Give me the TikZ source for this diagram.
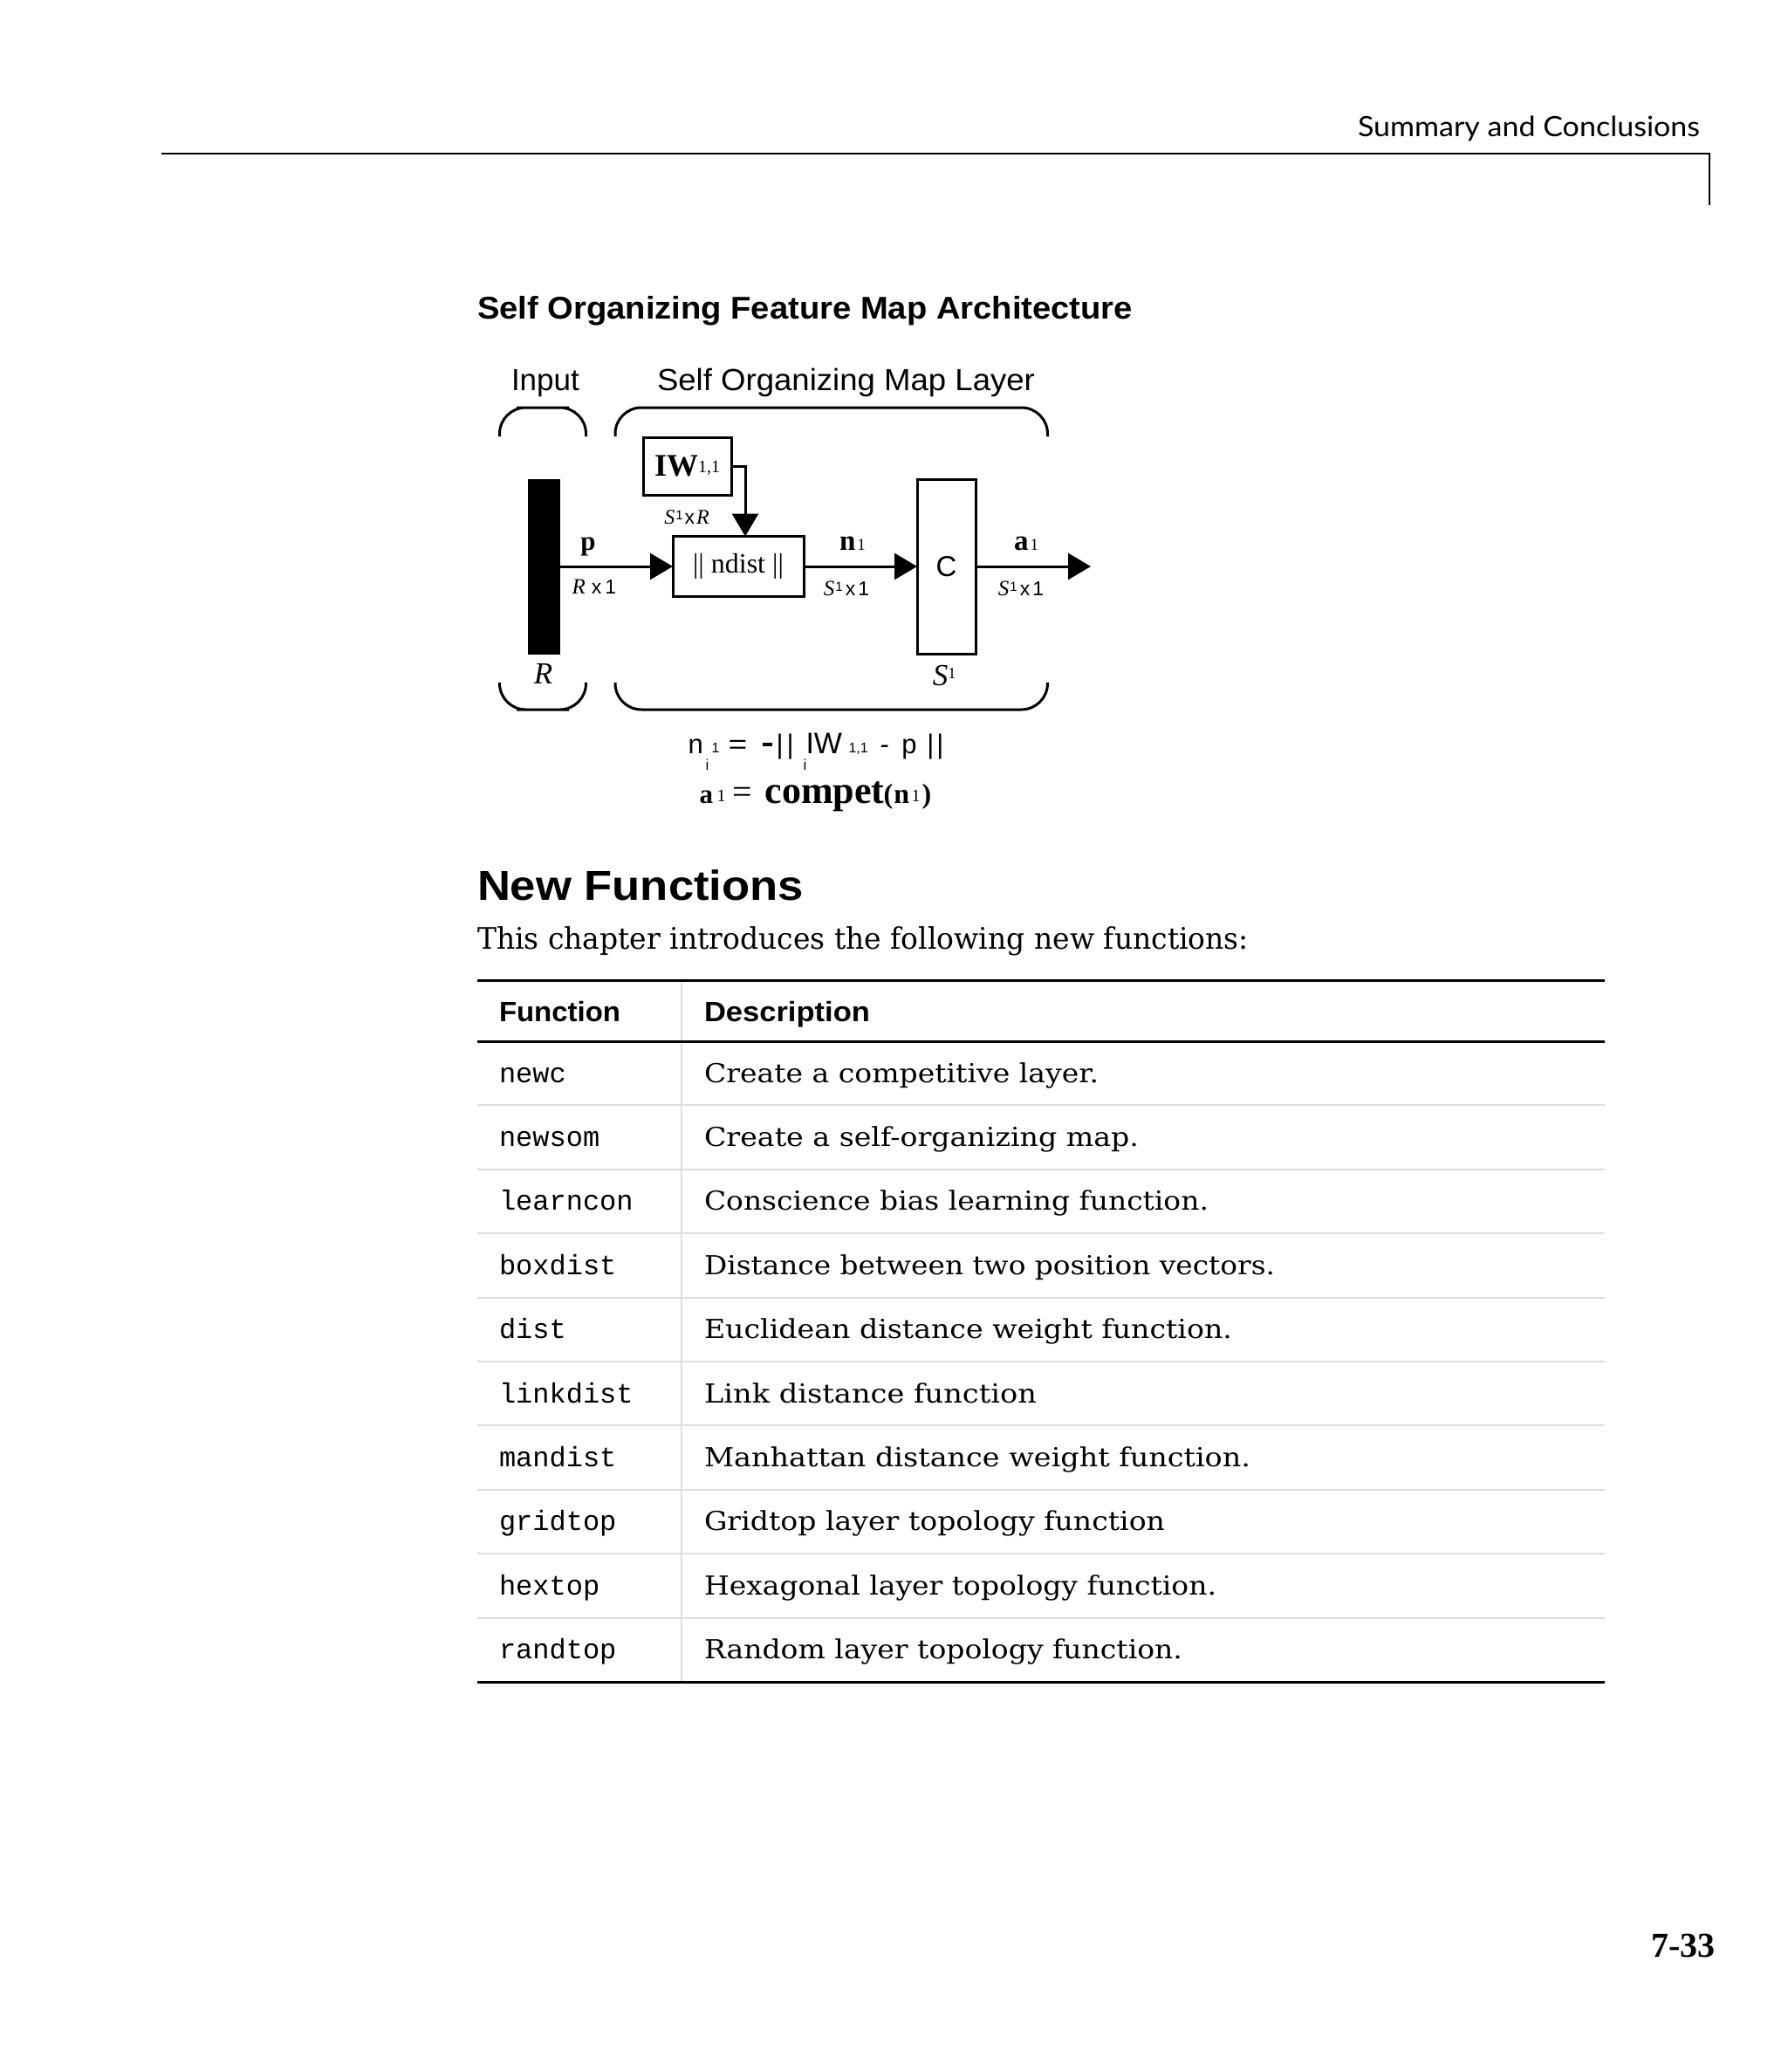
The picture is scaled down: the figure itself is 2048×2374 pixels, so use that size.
\documentclass[tikz,border=0pt]{standalone}
\usepackage{fontspec}
\usepackage{graphicx}
\usetikzlibrary{arrows.meta}
\newfontfamily\sansf{Liberation Sans}
\newfontfamily\serf{Liberation Serif}
\newfontfamily\dserf{DejaVu Serif}
\newfontfamily\monof{Liberation Mono}
\newfontfamily\latof{Lato}
\newcommand\fsz[1]{\fontsize{#1pt}{#1pt}\selectfont}
\newcommand\fitw[2]{\resizebox{#1}{\height}{#2}}
\newcommand\putat[3]{\rlap{\hspace*{#1}\raisebox{#2}{#3}}}
\newcommand\sone{\raisebox{5pt}{\sansf\fsz{15}1}}
\definecolor{rulegray}{HTML}{DDDDDD}
\begin{document}
\begin{tikzpicture}[x=1pt,y=-1pt,
  every node/.style={inner sep=0pt,outer sep=0pt},
  arr/.style={line width=3pt,-{Triangle[length=26pt,width=30pt]}},
  blk/.style={draw,line width=3pt,inner sep=0pt},
  bw/.style={anchor=base west},
  bc/.style={anchor=base},
  lbl/.style={anchor=base,font=\sansf\fsz{23}},
  brk/.style={line width=3pt,rounded corners=30pt}]
\fill[white] (0,0) rectangle (2048,2374);
\useasboundingbox (0,0) rectangle (2048,2374);

% page header
\node[bw] (hdr) at (1556,156) {\latof\fsz{32}\fitw{392pt}{Summary and Conclusions}};
\draw[line width=2pt] (185,176) -- (1959,176) -- (1959,235);

% title
\node[bw] (title) at (547,365) {\sansf\bfseries\fsz{36}\fitw{751pt}{Self Organizing Feature Map Architecture}};
\node[bw] (input) at (586,447) {\sansf\fsz{35}Input};
\node[bw] (layer) at (753,447) {\sansf\fsz{35}\fitw{433pt}{Self Organizing Map Layer}};

% brackets
\draw[brk] (572.5,500) |- (622,467) -| (671.5,500);
\draw[brk] (572.5,782) |- (622,813) -| (671.5,782);
\draw[brk] (705,500) |- (953,467) -| (1200.5,500);
\draw[brk] (705,782) |- (953,813) -| (1200.5,782);

% blocks
\node[fill=black,minimum width=37pt,minimum height=201pt] (bar) at (623.5,649) {};
\node[blk,minimum width=101pt,minimum height=66pt] (iw) at (787.5,534)
  {\serf\fsz{36}\textbf{IW}\raisebox{4pt}{\fsz{20}1,1}};
\node[blk,minimum width=150pt,minimum height=69pt] (nd) at (846,649)
  {\serf\fsz{32}\raisebox{-3pt}{|| ndist ||}};
\node[blk,minimum width=67pt,minimum height=200pt] (cb) at (1084.5,649)
  {\sansf\fsz{33}\raisebox{-9pt}{C}};
\coordinate (iwc) at (854,534);
\coordinate (aout) at (1250,649);

% connectors
\draw[arr] (bar.east) -- (nd.west);
\draw[arr] (iw.east) -- (iwc) -- (iwc |- nd.north);
\draw[arr] (nd.east) -- (cb.west);
\draw[arr] (cb.east) -- (aout);

% labels
\node[bc] (lp) at (674,630) {\serf\bfseries\fsz{31}p};
\node[lbl] (lrx1) at (681,680) {{\serf\itshape\fsz{25}R}\hspace{7pt}x\hspace{4pt}1};
\node[lbl] (lsxr) at (787,600) {{\serf\itshape\fsz{24}S}\hspace{1pt}\sone\hspace{2pt}x\hspace{2pt}{\serf\itshape\fsz{24}R}};
\node[bc] (ln) at (977,630) {\serf\fsz{33}\textbf{n}\hspace{2pt}\fsz{19}1};
\node[lbl] (lsx1a) at (970,682) {{\serf\itshape\fsz{25}S}\hspace{1pt}\sone\hspace{3pt}x\hspace{3pt}1};
\node[bc] (la) at (1176,630) {\serf\fsz{33}\textbf{a}\hspace{2pt}\fsz{19}1};
\node[lbl] (lsx1b) at (1170,682) {{\serf\itshape\fsz{25}S}\hspace{1pt}\sone\hspace{3pt}x\hspace{3pt}1};
\node[bc] (lR) at (622.5,783) {\serf\itshape\fsz{35}R};
\node[bc] (lS) at (1082,785) {\serf\fsz{35}\textit{S}\raisebox{8pt}{\fsz{18}1}};

% equations
\node[bw] (eq1) at (788,863) {\sansf\fsz{31}%
  \putat{0pt}{0pt}{n}%
  \putat{27pt}{1pt}{\fsz{16}1}%
  \putat{20pt}{-19pt}{\fsz{17}i}%
  \putat{46pt}{0pt}{\scalebox{1.2}[1]{=}}%
  \putat{85pt}{8pt}{\rule{11pt}{4pt}}%
  \putat{101pt}{0pt}{|}%
  \putat{113pt}{0pt}{|}%
  \putat{132pt}{-19pt}{\fsz{17}i}%
  \putat{135pt}{0pt}{\fsz{34}IW}%
  \putat{184pt}{1pt}{\fsz{16}1,1}%
  \putat{220pt}{0pt}{-}%
  \putat{245pt}{0pt}{p}%
  \putat{274pt}{0pt}{|}%
  \putat{285pt}{0pt}{|}};
\node[bw] (eq2) at (801,920) {\serf%
  \putat{0pt}{0pt}{\fsz{31}\bfseries a}%
  \putat{20pt}{2pt}{\fsz{20}1}%
  \putat{38pt}{0pt}{\fsz{40}=}%
  \putat{75pt}{0pt}{\fsz{44}\bfseries compet}%
  \putat{211pt}{0pt}{\fsz{32}\bfseries (}%
  \putat{223pt}{0pt}{\fsz{32}\bfseries n}%
  \putat{243pt}{2pt}{\fsz{20}1}%
  \putat{255pt}{0pt}{\fsz{32}\bfseries )}};

% New Functions
\node[bw] (nfh) at (547,1031) {\sansf\bfseries\fsz{48}\fitw{374pt}{New Functions}};
\node[bw] (intro) at (547,1087) {\dserf\fsz{34}\fitw{884pt}{This chapter introduces the following new functions:}};

% table rules
\foreach \k in {1,...,9}
  \draw[rulegray,line width=2pt] (547,{1193+73.4*\k}) -- (1839,{1193+73.4*\k});
\draw[rulegray,line width=2pt] (781,1123) -- (781,1927);
\draw[line width=3pt] (547,1123) -- (1839,1123);
\draw[line width=3pt] (547,1193) -- (1839,1193);
\draw[line width=3pt] (547,1927) -- (1839,1927);

\node[bw] (thf) at (572,1170) {\sansf\bfseries\fsz{32}\fitw{139pt}{Function}};
\node[bw] (thd) at (807,1170) {\sansf\bfseries\fsz{32}\fitw{190pt}{Description}};

\foreach \fn/\ds/\w [count=\i] in {
  newc/Create a competitive layer./452,
  newsom/Create a self-organizing map./498,
  learncon/Conscience bias learning function./578,
  boxdist/Distance between two position vectors./654,
  dist/Euclidean distance weight function./605,
  linkdist/Link distance function/381,
  mandist/Manhattan distance weight function./626,
  gridtop/Gridtop layer topology function/528,
  hextop/Hexagonal layer topology function./587,
  randtop/Random layer topology function./548}
{
  \node[bw] (fn\i) at (572,{1193+73.4*(\i-1)+47}) {\monof\fsz{32}\fn};
  \node[bw] (fd\i) at (807,{1193+73.4*(\i-1)+47}) {\dserf\fsz{30}\fitw{\w pt}{\ds}};
}

% page number
\node[bw] (pg) at (1892,2242) {\serf\bfseries\fsz{40}7-33};
\end{tikzpicture}
\end{document}
